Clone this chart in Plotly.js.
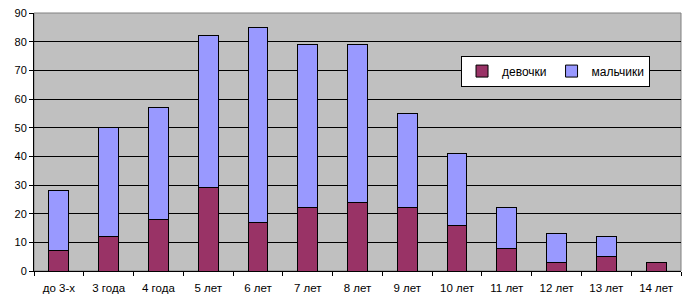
<!DOCTYPE html>
<html>
<head>
<meta charset="utf-8">
<script src="https://cdn.plot.ly/plotly-3.0.1.min.js"></script>
<style>html,body{margin:0;padding:0;background:#fff}#chart{width:695px;height:305px}</style>
</head>
<body>
<div id="chart"></div>
<script>
const categories = ["до 3-х","3 года","4 года","5 лет","6 лет","7 лет","8 лет","9 лет","10 лет","11 лет","12 лет","13 лет","14 лет"];
const girls = [7, 12, 18, 29, 17, 22, 24, 22, 16, 8, 3, 5, 3];
const boys  = [21, 38, 39, 53, 68, 57, 55, 33, 25, 14, 10, 7, 0];
const yTicks = [0,10,20,30,40,50,60,70,80,90];

const font = {family: "Liberation Sans, Arial, sans-serif", size: 11, color: "#000"};
const xfont = {family: "Liberation Sans, Arial, sans-serif", size: 11.5, color: "#000"};
const lfont = {family: "Liberation Sans, Arial, sans-serif", size: 12, color: "#000"};
const data = [
  {type:"bar", name:"девочки", x:categories, y:girls,
   marker:{color:"#993366", line:{color:"#000", width:1}}},
  {type:"bar", name:"мальчики", x:categories, y:boys,
   marker:{color:"#9999FF", line:{color:"#000", width:1}}}
];
const layout = {
  width:695, height:305,
  margin:{l:34, r:14, t:13, b:34},
  paper_bgcolor:"#fff", plot_bgcolor:"#C0C0C0",
  barmode:"stack", bargap:0.6,
  font:font,
  showlegend:true,
  legend:{orientation:"h", x:0.66, y:0.835, xanchor:"left", yanchor:"top",
    bgcolor:"#fff", bordercolor:"#000", borderwidth:1, font:lfont,
    itemwidth:30, traceorder:"normal"},
  xaxis:{type:"category", showline:true, linecolor:"#000", linewidth:1,
    ticks:"outside", ticklen:4, tickcolor:"#000", tickson:"boundaries",
    ticklabelstandoff:6,
    showgrid:false, tickfont:xfont, fixedrange:true},
  yaxis:{range:[0,90], tickvals:yTicks, showline:true, linecolor:"#000", linewidth:1,
    ticks:"outside", ticklen:4, tickcolor:"#000",
    showgrid:true, gridcolor:"#000", gridwidth:1, zeroline:false,
    tickfont:font, fixedrange:true},
  shapes:[{type:"rect", xref:"paper", yref:"paper", x0:0, x1:1, y0:0, y1:1,
    line:{color:"#808080", width:1}, layer:"below"}]
};
Plotly.newPlot("chart", data, layout, {displayModeBar:false, staticPlot:true});
</script>
</body>
</html>
